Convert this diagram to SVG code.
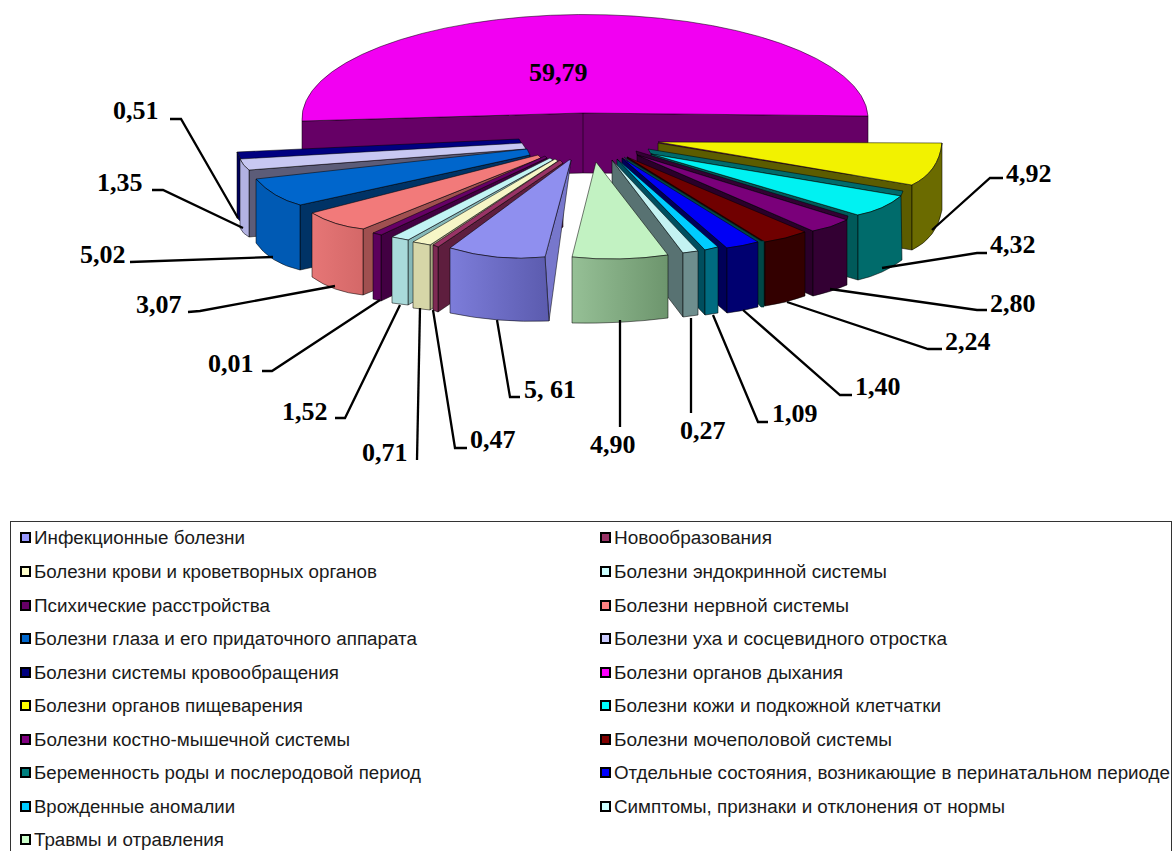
<svg xmlns="http://www.w3.org/2000/svg" width="1173" height="851" viewBox="0 0 1173 851">
<style>
.f{stroke:#000;stroke-width:0.7;stroke-linejoin:round;stroke-opacity:0.75}
.lbl{font-family:"Liberation Serif","Times New Roman",serif;font-weight:bold;font-size:26px;fill:#000}
.leg{font-family:"Liberation Sans",Arial,sans-serif;font-size:18px;fill:#1a1a1a}
.ld{stroke:#000;stroke-width:2.3;fill:none}
.mk{stroke:#000;stroke-width:2}
</style>
<defs>
<linearGradient id="gInf" x1="0" y1="0" x2="1" y2="0"><stop offset="0" stop-color="#7D7DDA"/><stop offset="1" stop-color="#5B5BAE"/></linearGradient>
<linearGradient id="gGrn" x1="0" y1="0" x2="1" y2="0"><stop offset="0" stop-color="#96C096"/><stop offset="1" stop-color="#6D956D"/></linearGradient>
<linearGradient id="gSal" x1="0" y1="0" x2="1" y2="0"><stop offset="0" stop-color="#E67676"/><stop offset="1" stop-color="#D46868"/></linearGradient>
</defs>
<rect width="1173" height="851" fill="#fff"/>

<g id="s-dyhaniya">
<path class="f" fill="#660066" d="M302,121 L583,113 L868,116 L868,175 L583,173 L302,180 Z"/>
<path class="f" fill="none" d="M583,113 L583,173"/>
<path class="f" fill="#F200F2" d="M302,121 A283,104 0 0 1 868,116 L583,113 Z"/>
</g>

<g id="s-krovoobr">
<path class="f" fill="#000080" d="M237,152 L519,139 L522,144 L241,160 Z"/>
<path class="f" fill="#00005C" d="M237,152 L241,160 L241,222 L237,218 Z"/>
</g>
<g id="s-uha">
<path class="f" fill="#5C5C78" d="M249,170 L526,149 L526,212 L249,237 Z"/>
<path class="f" fill="#C8C8F2" d="M240,159 L522,143 L526,149 L249,170 Q243,166 240,159 Z"/>
<path class="f" fill="#B2B2E2" d="M240,159 Q243,166 249,170 L249,237 Q243,234 240,228 Z"/>
</g>
<g id="s-glaza">
<path class="f" fill="#003366" d="M300,205 L530,155 L530,220 L300,270 Z"/>
<path class="f" fill="#0066CC" d="M256,179 L527,149 L530,155 L300,205 Q273,198 256,179 Z"/>
<path class="f" fill="#005AB4" d="M256,179 Q273,198 300,205 L300,270 Q270,263 256,243 Z"/>
</g>
<g id="s-nervnoy">
<path class="f" fill="#A05050" d="M363,229 L541,158 L541,222 L363,295 Z"/>
<path class="f" fill="#F27A7A" d="M312,213 L538,155 L541,158 L363,229 Q334,226 312,213 Z"/>
<path class="f" fill="url(#gSal)" d="M312,213 Q334,226 363,229 L363,295 Q333,292 312,277 Z"/>
</g>
<g id="s-psih">
<path class="f" fill="#420042" d="M381,235 L547,158 L547,222 L381,301 Z"/>
<path class="f" fill="#660066" d="M373,233 L545,156 L547,158 L381,235 Z"/>
<path class="f" fill="#5C005C" d="M373,233 L381,235 L381,301 L373,299 Z"/>
</g>
<g id="s-endokr">
<path class="f" fill="#86B8B8" d="M408,240 L553,160 L553,224 L408,305 Z"/>
<path class="f" fill="#C2F4F4" d="M392,237 L550,158 L553,160 L408,240 Z"/>
<path class="f" fill="#A9DADA" d="M392,237 L408,240 L408,305 L392,303 Z"/>
</g>
<g id="s-krovi">
<path class="f" fill="#A8A882" d="M430,245 L558,161 L558,225 L430,310 Z"/>
<path class="f" fill="#F6F6C6" d="M413,242 L555,159 L558,161 L430,245 Z"/>
<path class="f" fill="#D6D6A8" d="M413,242 L430,245 L430,310 L413,308 Z"/>
</g>
<g id="s-novoobr">
<path class="f" fill="#5E1E3E" d="M438,247 L563,163 L563,227 L438,312 Z"/>
<path class="f" fill="#993366" d="M433,245 L560,160 L563,163 L438,247 Z"/>
<path class="f" fill="#7E2A54" d="M433,245 L438,247 L438,312 L433,310 Z"/>
</g>
<g id="s-infekc">
<path class="f" fill="#7777CC" d="M545,257 L571,160 L549,321 Z"/>
<path class="f" fill="#8F8FEF" d="M450,248 L569,160 L571,160 L545,257 Q497,262 450,248 Z"/>
<path class="f" fill="url(#gInf)" d="M450,248 Q497,262 545,257 L549,321 Q498,323 450,313 Z"/>
</g>

<g id="s-pishev">
<path class="f" fill="#5C5C00" d="M658,143 L912,185 L912,250 L658,208 Z"/>
<path class="f" fill="#F2F200" d="M658,142 L942,143 Q939,172 912,185 Z"/>
<path class="f" fill="#6B6B00" d="M942,143 Q939,172 912,185 L912,250 Q937,238 942,210 Z"/>
</g>
<g id="s-kozhi">
<path class="f" fill="#006B6B" d="M648,149 L903,191 L901,196 L651,154 Z"/>
<path class="f" fill="#005A5A" d="M651,154 L858,215 L858,280 L651,219 Z"/>
<path class="f" fill="#00F2F2" d="M651,154 L901,196 Q884,210 858,215 Z"/>
<path class="f" fill="#006B6B" d="M901,196 Q884,210 858,215 L858,280 Q884,274 902,260 Z"/>
</g>
<g id="s-kostno">
<path class="f" fill="#330033" d="M636,151 L848,216 L847,220 L637,155 Z"/>
<path class="f" fill="#2A002A" d="M637,155 L813,231 L813,296 L637,219 Z"/>
<path class="f" fill="#7A007A" d="M637,155 L847,220 Q831,228 813,231 Z"/>
<path class="f" fill="#330033" d="M847,220 Q831,228 813,231 L813,296 Q831,292 847,285 Z"/>
</g>
<g id="s-mochepol">
<path class="f" fill="#200000" d="M627,157 L765,242 L765,306 L627,221 Z"/>
<path class="f" fill="#700000" d="M627,157 L805,232 Q786,239 765,242 Z"/>
<path class="f" fill="#330000" d="M805,232 Q786,239 765,242 L765,306 Q786,303 805,296 Z"/>
</g>
<g id="s-beremen">
<path fill="#004848" stroke="#002828" stroke-width="0.6" d="M624,157 L761,241 L764,241 L764,307 L761,307 Z"/>
</g>
<g id="s-otdelnye">
<path class="f" fill="#000058" d="M622,158 L727,248 L727,313 L622,222 Z"/>
<path class="f" fill="#0000F5" d="M622,158 L758,242 Q743,246 727,248 Z"/>
<path class="f" fill="#000070" d="M758,242 Q743,246 727,248 L727,313 Q743,311 758,307 Z"/>
</g>
<g id="s-vrozhd">
<path class="f" fill="#004E5E" d="M617,159 L705,250 L705,315 L617,223 Z"/>
<path class="f" fill="#00CCFF" d="M617,159 L718,247 L705,250 Z"/>
<path class="f" fill="#006B80" d="M705,250 L718,247 L718,313 L705,315 Z"/>
</g>
<g id="s-simptomy">
<path class="f" fill="#587272" d="M612,160 L683,253 L683,317 L612,224 Z"/>
<path class="f" fill="#C4F2F2" d="M612,160 L698,251 L683,253 Z"/>
<path class="f" fill="#6E8E8E" d="M683,253 L698,251 L698,315 L683,317 Z"/>
</g>
<g id="s-travmy">
<path class="f" fill="#C2F2C2" d="M596,162 L668,255 Q620,262 572,257 Z"/>
<path class="f" fill="url(#gGrn)" d="M572,257 Q620,262 668,255 L668,318 Q620,324 572,323 Z"/>
</g>

<g id="connectors">
<polyline class="ld" points="170,119 181,119 238,218"/>
<polyline class="ld" points="152,190 163,190 243,228"/>
<polyline class="ld" points="130,262 273,257"/>
<polyline class="ld" points="188,312 200,311 335,286"/>
<polyline class="ld" points="262,371 272,371 380,300"/>
<polyline class="ld" points="335,418 345,418 400,305"/>
<polyline class="ld" points="417,460 420,308"/>
<polyline class="ld" points="467,448 455,448 433,310"/>
<polyline class="ld" points="520,397 510,397 497,320"/>
<polyline class="ld" points="620,427 620,320"/>
<polyline class="ld" points="691,413 691,318"/>
<polyline class="ld" points="768,422 758,422 713,315"/>
<polyline class="ld" points="852,395 840,395 743,310"/>
<polyline class="ld" points="942,349 928,349 787,302"/>
<polyline class="ld" points="987,310 977,310 830,289"/>
<polyline class="ld" points="987,253 977,253 882,268"/>
<polyline class="ld" points="1003,178 990,178 932,230"/>
</g>

<g id="labels">
<text class="lbl" x="529" y="81">59,79</text>
<text class="lbl" x="113" y="119">0,51</text>
<text class="lbl" x="97" y="191">1,35</text>
<text class="lbl" x="80" y="263">5,02</text>
<text class="lbl" x="136" y="313">3,07</text>
<text class="lbl" x="208" y="372">0,01</text>
<text class="lbl" x="282" y="420">1,52</text>
<text class="lbl" x="362" y="461">0,71</text>
<text class="lbl" x="470" y="448">0,47</text>
<text class="lbl" x="524" y="398">5, 61</text>
<text class="lbl" x="590" y="453">4,90</text>
<text class="lbl" x="680" y="439">0,27</text>
<text class="lbl" x="772" y="422">1,09</text>
<text class="lbl" x="855" y="395">1,40</text>
<text class="lbl" x="945" y="350">2,24</text>
<text class="lbl" x="990" y="312">2,80</text>
<text class="lbl" x="990" y="253">4,32</text>
<text class="lbl" x="1006" y="182">4,92</text>
</g>

<g id="legend">
<rect x="10.5" y="521.5" width="1161" height="340" fill="none" stroke="#333" stroke-width="1"/>
<rect class="mk" x="21" y="533" width="9" height="9" fill="#9999FF"/>
<text class="leg" x="34" y="544" textLength="211" lengthAdjust="spacingAndGlyphs">Инфекционные болезни</text>
<rect class="mk" x="21" y="567" width="9" height="9" fill="#FFFFCC"/>
<text class="leg" x="34" y="578" textLength="343" lengthAdjust="spacingAndGlyphs">Болезни крови и кроветворных органов</text>
<rect class="mk" x="21" y="601" width="9" height="9" fill="#660066"/>
<text class="leg" x="34" y="612" textLength="236" lengthAdjust="spacingAndGlyphs">Психические расстройства</text>
<rect class="mk" x="21" y="634" width="9" height="9" fill="#0066CC"/>
<text class="leg" x="34" y="645" textLength="383" lengthAdjust="spacingAndGlyphs">Болезни глаза и его придаточного аппарата</text>
<rect class="mk" x="21" y="668" width="9" height="9" fill="#000080"/>
<text class="leg" x="34" y="679" textLength="305" lengthAdjust="spacingAndGlyphs">Болезни системы кровообращения</text>
<rect class="mk" x="21" y="701" width="9" height="9" fill="#FFFF00"/>
<text class="leg" x="34" y="712" textLength="269" lengthAdjust="spacingAndGlyphs">Болезни органов пищеварения</text>
<rect class="mk" x="21" y="735" width="9" height="9" fill="#800080"/>
<text class="leg" x="34" y="746" textLength="316" lengthAdjust="spacingAndGlyphs">Болезни костно-мышечной системы</text>
<rect class="mk" x="21" y="768" width="9" height="9" fill="#008080"/>
<text class="leg" x="34" y="779" textLength="387" lengthAdjust="spacingAndGlyphs">Беременность роды и послеродовой период</text>
<rect class="mk" x="21" y="802" width="9" height="9" fill="#00CCFF"/>
<text class="leg" x="34" y="813" textLength="201" lengthAdjust="spacingAndGlyphs">Врожденные аномалии</text>
<rect class="mk" x="21" y="835" width="9" height="9" fill="#CCFFCC"/>
<text class="leg" x="34" y="846" textLength="190" lengthAdjust="spacingAndGlyphs">Травмы и отравления</text>

<rect class="mk" x="601" y="533" width="9" height="9" fill="#993366"/>
<text class="leg" x="614" y="544" textLength="158" lengthAdjust="spacingAndGlyphs">Новообразования</text>
<rect class="mk" x="601" y="567" width="9" height="9" fill="#CCFFFF"/>
<text class="leg" x="614" y="578" textLength="273" lengthAdjust="spacingAndGlyphs">Болезни эндокринной системы</text>
<rect class="mk" x="601" y="601" width="9" height="9" fill="#FF8080"/>
<text class="leg" x="614" y="612" textLength="235" lengthAdjust="spacingAndGlyphs">Болезни нервной системы</text>
<rect class="mk" x="601" y="634" width="9" height="9" fill="#CCCCFF"/>
<text class="leg" x="614" y="645" textLength="333" lengthAdjust="spacingAndGlyphs">Болезни уха и сосцевидного отростка</text>
<rect class="mk" x="601" y="668" width="9" height="9" fill="#FF00FF"/>
<text class="leg" x="614" y="679" textLength="229" lengthAdjust="spacingAndGlyphs">Болезни органов дыхания</text>
<rect class="mk" x="601" y="701" width="9" height="9" fill="#00FFFF"/>
<text class="leg" x="614" y="712" textLength="327" lengthAdjust="spacingAndGlyphs">Болезни кожи и подкожной клетчатки</text>
<rect class="mk" x="601" y="735" width="9" height="9" fill="#800000"/>
<text class="leg" x="614" y="746" textLength="278" lengthAdjust="spacingAndGlyphs">Болезни мочеполовой системы</text>
<rect class="mk" x="601" y="768" width="9" height="9" fill="#0000FF"/>
<text class="leg" x="614" y="779" textLength="556" lengthAdjust="spacingAndGlyphs">Отдельные состояния, возникающие в перинатальном периоде</text>
<rect class="mk" x="601" y="802" width="9" height="9" fill="#CCFFFF"/>
<text class="leg" x="614" y="813" textLength="391" lengthAdjust="spacingAndGlyphs">Симптомы, признаки и отклонения от нормы</text>
</g>
</svg>
